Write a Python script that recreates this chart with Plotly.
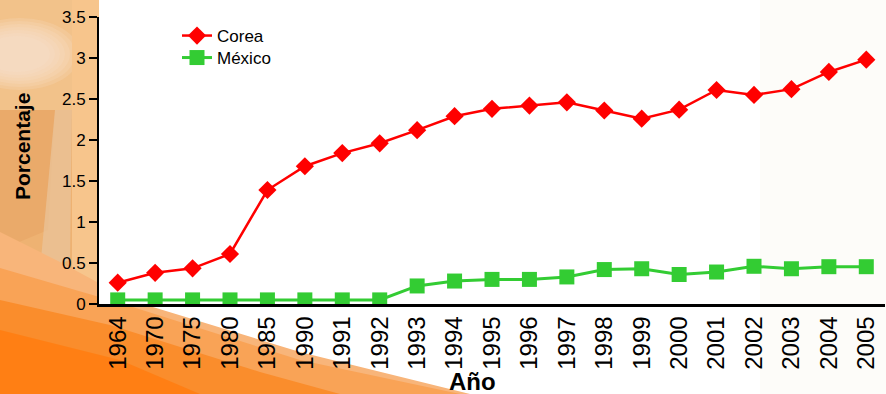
import plotly.graph_objects as go

# Share of GDP spent on R&D, by year
years = ["1964", "1970", "1975", "1980", "1985", "1990", "1991", "1992", "1993",
         "1994", "1995", "1996", "1997", "1998", "1999", "2000", "2001", "2002",
         "2003", "2004", "2005"]
corea = [0.26, 0.38, 0.435, 0.61, 1.39, 1.68, 1.84, 1.96, 2.12, 2.29, 2.38, 2.42,
         2.46, 2.36, 2.26, 2.37, 2.61, 2.55, 2.62, 2.83, 2.98]
mexico = [0.05, 0.05, 0.05, 0.05, 0.05, 0.05, 0.05, 0.05, 0.22, 0.28, 0.30, 0.30,
          0.33, 0.42, 0.43, 0.36, 0.39, 0.46, 0.43, 0.455, 0.455]

FONT = "Liberation Sans, Arial, sans-serif"
W, H = 886, 394
ML, MR, MT, MB = 99, 1, 17, 90
PW, PH = W - ML - MR, H - MT - MB


def px(x):
    return (x - ML) / PW


def py(y):
    return (H - MB - y) / PH


def poly(points):
    return "M " + " L ".join(f"{px(x):.4f},{py(y):.4f}" for x, y in points) + " Z"


def rect(x0, y0, x1, y1, color, opacity=1.0):
    return dict(type="rect", xref="paper", yref="paper", layer="below",
                x0=px(x0), x1=px(x1), y0=py(y1), y1=py(y0),
                fillcolor=color, opacity=opacity, line=dict(width=0))


def path(points, color, opacity=1.0):
    return dict(type="path", xref="paper", yref="paper", layer="below",
                path=poly(points), fillcolor=color, opacity=opacity,
                line=dict(width=0))


def ellipse(x0, y0, x1, y1, color, opacity=1.0):
    return dict(type="circle", xref="paper", yref="paper", layer="below",
                x0=px(x0), x1=px(x1), y0=py(y1), y1=py(y0),
                fillcolor=color, opacity=opacity, line=dict(width=0))


# Soft glow in the top-left corner, built from stacked translucent ellipses
glow = [ellipse(-40 + 4 * i, 18 + 3 * i, 80 - 5 * i, 90 - 3 * i, "#F8E4D0", 0.18)
        for i in range(7)]

# Decorative slide background: warm strip on the left, orange sweep at the bottom
shapes = [
    rect(0, 0, 99, 300, "#EEB272"),
    rect(0, 0, 99, 110, "#F2C28A"),
    *glow,
    path([(0, 110), (55, 110), (48, 230), (0, 250)], "#EAAA6A"),
    path([(55, 110), (72, 110), (70, 260), (40, 270)], "#E9C49C", 0.7),
    rect(72, 0, 99, 300, "#F7C58C"),
    path([(0, 232), (60, 262), (130, 300), (300, 352), (470, 394), (0, 394)], "#F8B57A"),
    path([(0, 268), (120, 303), (300, 360), (460, 394), (0, 394)], "#F9A356"),
    path([(0, 300), (110, 325), (260, 372), (340, 394), (0, 394)], "#FA8D2C"),
    path([(0, 330), (120, 360), (200, 394), (0, 394)], "#FF7F14"),
    rect(99, 17, W, 304, "white"),
    rect(760, 0, W, H, "#FDFCF9"),
]

fig = go.Figure()
fig.add_trace(go.Scatter(
    x=years, y=corea, name="Corea", mode="lines+markers",
    line=dict(color="#FF0000", width=2.5),
    marker=dict(symbol="diamond", size=14, color="#FF0000"),
    legend="legend",
))
fig.add_trace(go.Scatter(
    x=years, y=mexico, name="México", mode="lines+markers",
    line=dict(color="#33CC33", width=3),
    marker=dict(symbol="square", size=15, color="#33CC33"),
    legend="legend2",
))

legend_style = dict(xanchor="left", yanchor="middle", bgcolor="rgba(0,0,0,0)",
                    font=dict(size=17, family=FONT))

fig.update_layout(
    width=W, height=H,
    margin=dict(l=ML, r=MR, t=MT, b=MB, pad=0),
    paper_bgcolor="white",
    plot_bgcolor="rgba(0,0,0,0)",
    font=dict(family=FONT, color="black"),
    shapes=shapes,
    showlegend=True,
    legend=dict(x=px(177), y=py(36), **legend_style),
    legend2=dict(x=px(177), y=py(58), **legend_style),
    annotations=[
        dict(text="<b>Porcentaje</b>", xref="paper", yref="paper",
             x=px(22), y=py(147), xanchor="center", yanchor="middle",
             showarrow=False, textangle=-90,
             font=dict(size=21, family=FONT)),
        dict(text="<b>Año</b>", xref="paper", yref="paper",
             x=px(472), y=py(381), xanchor="center", yanchor="middle",
             showarrow=False, font=dict(size=24, family=FONT)),
    ],
)
fig.update_xaxes(
    type="category", range=[-0.5, len(years) - 0.5],
    showline=True, linecolor="black", linewidth=2.5,
    showgrid=False, zeroline=False, ticks="",
    tickangle=-90, tickfont=dict(size=24, family=FONT),
)
fig.update_yaxes(
    range=[0, 3.5], dtick=0.5, tick0=0,
    showline=True, linecolor="black", linewidth=2,
    ticks="outside", ticklen=8, tickwidth=2, tickcolor="black",
    showgrid=False, zeroline=False,
    tickfont=dict(size=17, family=FONT),
)

fig.write_html("out.html")
